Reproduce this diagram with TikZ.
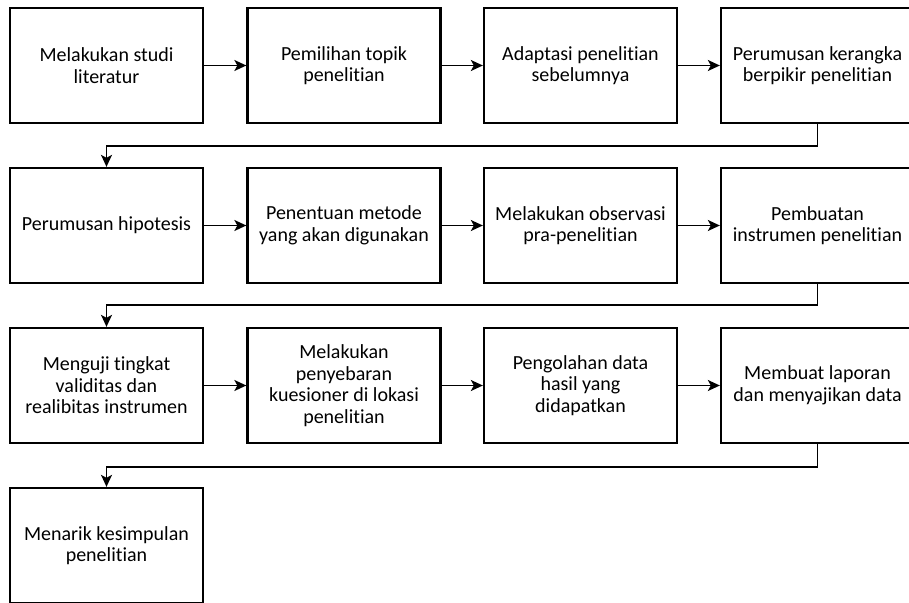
\documentclass[tikz,border=0pt]{standalone}
\usepackage{fontspec}
\setmainfont{Carlito}[Ligatures={NoCommon,NoRequired,NoContextual,NoRare},Contextuals=NoAlternate]
\usepackage{tikz}
\usetikzlibrary{arrows.meta}

\begin{document}
\begin{tikzpicture}[x=1pt,y=-1pt,>={Stealth[length=12pt,width=11pt,inset=3pt]}]

  %Styles for picture
  \tikzset
  {
  stepbox/.style={rectangle, draw=black, line width=2.3pt, minimum width=193pt, minimum height=115pt, inner sep=0pt, align=center, font=\fontsize{20}{21.5}\selectfont},
  flow/.style={->, line width=1.6pt},
  }

  \useasboundingbox (0,0) rectangle (909,602);
  \clip (0,0) rectangle (909,602);

  % Nodes
  \node[stepbox] (v1) at (106.5,65.5) {Melakukan studi\\literatur};
  \node[stepbox] (v2) at (344,65.5) {Pemilihan topik\\penelitian};
  \node[stepbox] (v3) at (580.5,65.5) {Adaptasi penelitian\\sebelumnya};
  \node[stepbox] (v4) at (817.5,65.5) {Perumusan kerangka\\berpikir penelitian};

  \node[stepbox] (v5) at (106.5,225.5) {Perumusan hipotesis};
  \node[stepbox] (v6) at (344,225.5) {Penentuan metode\\yang akan digunakan};
  \node[stepbox] (v7) at (580.5,225.5) {Melakukan observasi\\pra-penelitian};
  \node[stepbox] (v8) at (817.5,225.5) {Pembuatan\\instrumen penelitian};

  \node[stepbox] (v9) at (106.5,385.5) {Menguji tingkat\\validitas dan\\realibitas instrumen};
  \node[stepbox] (v10) at (344,385.5) {Melakukan\\penyebaran\\kuesioner di lokasi\\penelitian};
  \node[stepbox] (v11) at (580.5,385.5) {Pengolahan data\\hasil yang\\didapatkan};
  \node[stepbox] (v12) at (817.5,385.5) {Membuat laporan\\dan menyajikan data};

  \node[stepbox] (v13) at (106.5,545.5) {Menarik kesimpulan\\penelitian};

  % Edges
  \draw[flow] (v1) -- (v2);
  \draw[flow] (v2) -- (v3);
  \draw[flow] (v3) -- (v4);
  \draw[flow] (v4.south) -- ++(0,22) -| (v5.north); % next row
  \draw[flow] (v5) -- (v6);
  \draw[flow] (v6) -- (v7);
  \draw[flow] (v7) -- (v8);
  \draw[flow] (v8.south) -- ++(0,21) -| (v9.north); % next row
  \draw[flow] (v9) -- (v10);
  \draw[flow] (v10) -- (v11);
  \draw[flow] (v11) -- (v12);
  \draw[flow] (v12.south) -- ++(0,23) -| (v13.north); % next row
\end{tikzpicture}
\end{document}
